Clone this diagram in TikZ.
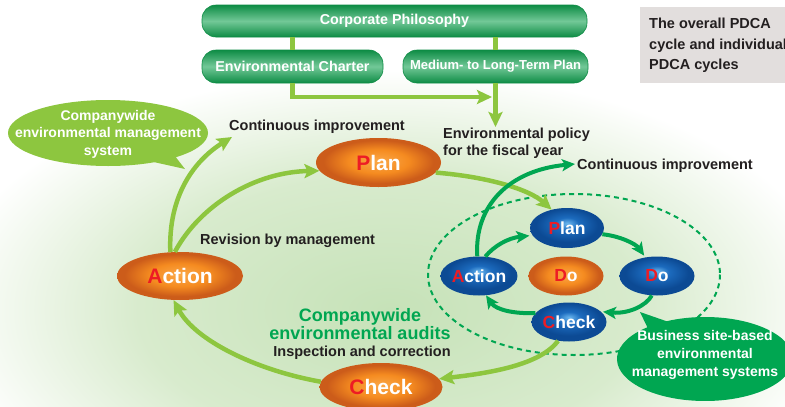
\documentclass[tikz,border=0pt]{standalone}
\usepackage{fontspec}
\setmainfont{Liberation Sans}
\usetikzlibrary{shapes.geometric,shapes.callouts,arrows.meta}
\definecolor{lg}{HTML}{8DC63F}
\definecolor{dg}{HTML}{00A651}
\definecolor{redP}{HTML}{ED1C24}
\definecolor{txt}{HTML}{231F20}
\definecolor{greybox}{HTML}{E2DEDD}
\definecolor{orL}{HTML}{FBA848}
\definecolor{orM}{HTML}{F58B20}
\definecolor{orD}{HTML}{CC5C1A}
\definecolor{blL}{HTML}{6AB6EE}
\definecolor{blM}{HTML}{1C6BBE}
\definecolor{blD}{HTML}{0C4A94}
\definecolor{gbD}{HTML}{0E8C45}
\definecolor{gbL}{HTML}{72C897}
\definecolor{bgc}{HTML}{C6E2B8}
\definecolor{bgm}{HTML}{D8EBCD}
\pgfdeclareradialshading{orangeball}{\pgfpoint{0bp}{1.5bp}}{color(0bp)=(orL); color(12bp)=(orM); color(22bp)=(orD); color(25bp)=(orD); color(50bp)=(orD)}
\pgfdeclareradialshading{blueball}{\pgfpoint{0bp}{6bp}}{color(0bp)=(blL); color(8bp)=(blM); color(21bp)=(blD); color(25bp)=(blD); color(50bp)=(blD)}
\pgfdeclareradialshading{bgglow}{\pgfpoint{0bp}{0bp}}{color(0bp)=(bgc); color(14bp)=(bgm); color(25bp)=(white); color(50bp)=(white)}
\tikzset{
  lbl/.style={font=\bfseries\fontsize{14.5}{17}\selectfont, text=txt, inner sep=0pt},
  gbox/.style={rounded corners=14pt, draw=gbD, line width=0.6pt, top color=gbD, bottom color=gbD, middle color=gbL, text=white, font=\bfseries\fontsize{14.3}{16}\selectfont, inner sep=0pt},
  bigball/.style={ellipse, shade, shading=orangeball, inner sep=0pt, text=white, font=\bfseries\fontsize{21}{24}\selectfont},
  smallball/.style={ellipse, shade, shading=blueball, inner sep=0pt, text=white, font=\bfseries\fontsize{17.5}{20}\selectfont},
  smallorange/.style={ellipse, shade, shading=orangeball, inner sep=0pt, text=white, font=\bfseries\fontsize{17.5}{20}\selectfont},
  lgline/.style={draw=lg, line width=4.5pt},
  lgarrow/.style={draw=lg, line width=4.5pt, -{Stealth[length=15pt,width=14pt,inset=3pt]}},
  dgarrow/.style={draw=dg, line width=4pt, -{Stealth[length=13pt,width=12pt,inset=3pt]}},
  callouttext/.style={text=white, align=center, font=\bfseries\fontsize{14}{17.5}\selectfont, inner sep=0pt}
}
\begin{document}
\begin{tikzpicture}[x=1pt,y=-1pt]
\useasboundingbox (0,0) rectangle (785,407);
\fill[white] (0,0) rectangle (785,407);
\begin{scope}
  \clip (0,0) rectangle (785,407);
  \shade[shading=bgglow] (390,310) ellipse (450 and 240);
\end{scope}

% grey box
\node[fill=greybox, anchor=north west, minimum width=150pt, minimum height=76pt, inner sep=0pt] (gray) at (640,7) {};
\node[lbl, align=left, anchor=north west, font=\bfseries\fontsize{14.5}{20.5}\selectfont] (graytxt) at (649,18) {The overall PDCA\\cycle and individual\\PDCA cycles};

% top boxes
\node[gbox, minimum width=385pt, minimum height=32pt] (phil) at (394.5,21) {Corporate Philosophy};
\node[gbox, minimum width=181pt, minimum height=33pt] (charter) at (292.5,66.5) {Environmental Charter};
\node[gbox, minimum width=185pt, minimum height=33pt, font=\bfseries\fontsize{13}{15}\selectfont] (medium) at (495.5,66.5) {Medium- to Long-Term Plan};
\draw[lgline] (charter.north) -- (charter.north |- phil.south);
\draw[lgline] (medium.north) -- (medium.north |- phil.south);
\coordinate (jtip) at (492,97);
\coordinate (mtip) at (495.5,127);
\draw[lgarrow] (charter.south) |- (jtip);
\draw[lgarrow] (medium.south) -- (mtip);

% dashed site-level ellipse
\draw[dg, line width=2pt, dash pattern=on 5pt off 4pt] (574,274.5) ellipse (146 and 80.5);

% callouts
\node[ellipse callout, fill=lg, minimum width=200pt, minimum height=66pt, callout absolute pointer={(185,169)}] (cwcall) at (108,133) {};
\node[callouttext] (cwtxt) at (108,134) {Companywide\\environmental management\\system};
\node[ellipse callout, fill=dg, minimum width=176pt, minimum height=84pt, callout absolute pointer={(640,312)}] (sitecall) at (705,359) {};
\node[callouttext, font=\bfseries\fontsize{14}{18}\selectfont] (sitetxt) at (705,355) {Business site-based\\environmental\\management systems};

% companywide PDCA
\node[bigball, minimum width=125pt, minimum height=49pt] (planO) at (378.5,162.5) {\textcolor{redP}{P}lan};
\node[bigball, minimum width=126pt, minimum height=48pt] (actO) at (180,276) {\textcolor{redP}{A}ction};
\node[bigball, minimum width=123pt, minimum height=48pt] (chkO) at (381,387) {\textcolor{redP}{C}heck};

% site PDCA
\node[smallball, minimum width=74pt, minimum height=40pt] (bPlan) at (567,228) {\textcolor{redP}{P}lan};
\node[smallball, minimum width=76pt, minimum height=39pt] (bAct) at (479,276) {\textcolor{redP}{A}ction};
\node[smallorange, minimum width=75pt, minimum height=39pt] (oDo) at (566,276) {\textcolor{redP}{D}o};
\node[smallball, minimum width=75pt, minimum height=39pt] (bDo) at (657,276) {\textcolor{redP}{D}o};
\node[smallball, minimum width=75pt, minimum height=39pt] (bCheck) at (569,322) {\textcolor{redP}{C}heck};

% light green arrows
\coordinate (ciTip) at (232,137);
\draw[lgarrow] (actO.112) .. controls (168,195) and (195,160) .. (ciTip);
\draw[lgarrow] (actO.102) .. controls (200,205) and (255,172) .. (planO.188);
\draw[lgarrow] (planO.350) .. controls (490,177) and (530,190) .. (bPlan.130);
\draw[lgarrow] (bCheck.240) .. controls (540,365) and (490,373) .. (chkO.8);
\draw[lgarrow] (chkO.175) .. controls (255,370) and (195,340) .. (actO.255);

% dark green arrows
\coordinate (ci2Tip) at (575,164);
\draw[dgarrow] (bAct.95) .. controls (474,205) and (510,170) .. (ci2Tip);
\draw[dgarrow, shorten >=3pt] (bAct.72) .. controls (494,246) and (508,238) .. (bPlan.192);
\draw[dgarrow, shorten >=2pt] (bPlan.350) .. controls (620,236) and (636,244) .. (bDo.122);
\draw[dgarrow, shorten >=2pt] (bDo.255) .. controls (646,306) and (628,314) .. (bCheck.18);
\draw[dgarrow] (bCheck.165) .. controls (515,314) and (496,310) .. (bAct.290);

% labels
\node[lbl, anchor=west] (ci1) at (229,127) {Continuous improvement};
\node[lbl, anchor=north west, align=left] (policy) at (443,128) {Environmental policy\\for the fiscal year};
\node[lbl, anchor=west] (ci2) at (577,166) {Continuous improvement};
\node[lbl, anchor=west] (rev) at (200,241) {Revision by management};
\node[lbl, text=dg, align=center, font=\bfseries\fontsize{18}{18.5}\selectfont] (audits) at (360,324) {Companywide\\environmental audits};
\node[lbl] (insp) at (362,353) {Inspection and correction};
\end{tikzpicture}
\end{document}
